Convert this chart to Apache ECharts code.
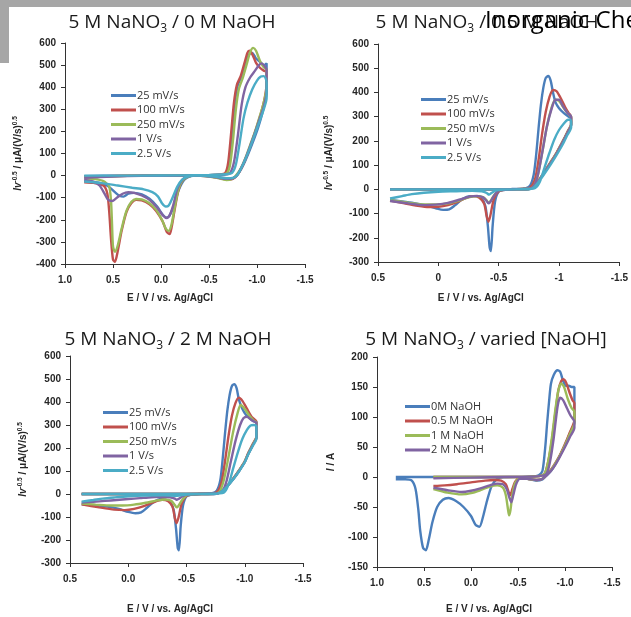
<!DOCTYPE html>
<html><head><meta charset="utf-8">
<script src="https://cdn.jsdelivr.net/npm/echarts@6/dist/echarts.min.js"></script>
<style>html,body{margin:0;padding:0;background:#fff}#c{width:631px;height:617px}</style>
</head><body><div id="c"></div>
<script>
// ---------- legend names ----------
const rateNames = ['25 mV/s', '100 mV/s', '250 mV/s', '1 V/s', '2.5 V/s'];
const naohNames = ['0M NaOH', '0.5 M NaOH', '1 M NaOH', '2 M NaOH'];
const titles = ['0 M NaOH', '0.5 M NaOH', '2 M NaOH', 'varied [NaOH]'];
const colors = ['#4a7ebb', '#c0504d', '#9bbb59', '#8064a2', '#4bacc6'];

// ---------- panel 1: 5 M NaNO3 / 0 M NaOH  ([E (V), I v^-0.5]) ----------
const p1_25 = [[0.8,-3],[0.6,-1],[0.3,0],[0,0],[-0.3,1],[-0.5,2],[-0.62,4],[-0.68,10],[-0.71,50],[-0.74,170],[-0.77,330],[-0.8,410],[-0.84,450],[-0.88,510],[-0.92,550],[-0.95,555],[-0.99,530],[-1.03,515],[-1.07,500],[-1.1,508],
 [-1.1,380],[-1.06,290],[-1.01,215],[-0.96,155],[-0.91,100],[-0.86,50],[-0.81,12],[-0.77,-8],[-0.72,-14],[-0.62,-8],[-0.5,-2],[-0.38,0],[-0.3,-3],[-0.24,-20],[-0.18,-70],[-0.13,-140],[-0.09,-180],[-0.06,-190],[-0.02,-178],[0.04,-140],[0.12,-105],[0.2,-85],[0.28,-78],[0.34,-82],[0.39,-95],[0.43,-92],[0.48,-75],[0.55,-48],[0.65,-32],[0.8,-22]];
const p1_100 = [[0.8,-5],[0.5,-2],[0.2,0],[-0.2,1],[-0.5,2],[-0.62,5],[-0.67,12],[-0.7,60],[-0.73,190],[-0.76,330],[-0.79,410],[-0.83,450],[-0.87,510],[-0.9,555],[-0.92,565],[-0.95,550],[-0.99,510],[-1.03,488],[-1.07,475],[-1.1,470],
 [-1.1,420],[-1.08,350],[-1.04,280],[-0.99,210],[-0.94,145],[-0.89,85],[-0.84,35],[-0.79,0],[-0.75,-15],[-0.7,-18],[-0.6,-10],[-0.48,-2],[-0.36,0],[-0.28,-5],[-0.22,-25],[-0.18,-70],[-0.14,-160],[-0.11,-235],[-0.09,-265],[-0.06,-255],[-0.02,-210],[0.05,-160],[0.12,-130],[0.2,-112],[0.26,-110],[0.31,-125],[0.36,-165],[0.41,-250],[0.45,-340],[0.48,-390],[0.5,-380],[0.52,-290],[0.54,-160],[0.56,-80],[0.6,-45],[0.7,-33],[0.8,-30]];
const p1_250 = [[0.8,-8],[0.5,-3],[0.2,0],[-0.2,1],[-0.5,2],[-0.64,5],[-0.69,12],[-0.72,50],[-0.75,160],[-0.78,300],[-0.81,390],[-0.85,440],[-0.89,500],[-0.93,560],[-0.96,578],[-0.99,565],[-1.03,520],[-1.07,490],[-1.1,480],
 [-1.1,400],[-1.07,330],[-1.03,270],[-0.98,200],[-0.93,140],[-0.88,80],[-0.83,32],[-0.78,0],[-0.74,-15],[-0.68,-20],[-0.58,-10],[-0.46,-2],[-0.36,0],[-0.28,-5],[-0.22,-25],[-0.18,-65],[-0.14,-150],[-0.11,-220],[-0.08,-250],[-0.05,-240],[-0.01,-200],[0.05,-155],[0.12,-125],[0.2,-108],[0.26,-106],[0.31,-120],[0.36,-160],[0.41,-240],[0.45,-315],[0.48,-345],[0.5,-320],[0.51,-220],[0.52,-120],[0.54,-50],[0.6,-25],[0.7,-15],[0.8,-12]];
const p1_1000 = [[0.8,-10],[0.5,-4],[0.2,-1],[-0.2,0],[-0.5,2],[-0.66,5],[-0.72,12],[-0.76,60],[-0.8,180],[-0.84,320],[-0.88,400],[-0.93,445],[-0.98,475],[-1.02,500],[-1.05,508],[-1.08,495],[-1.1,480],
 [-1.1,380],[-1.07,310],[-1.03,260],[-0.98,195],[-0.93,135],[-0.88,78],[-0.83,30],[-0.79,0],[-0.75,-12],[-0.68,-15],[-0.58,-8],[-0.46,-2],[-0.36,0],[-0.28,-4],[-0.22,-20],[-0.17,-60],[-0.13,-130],[-0.09,-180],[-0.06,-192],[-0.02,-180],[0.04,-145],[0.12,-110],[0.2,-90],[0.28,-78],[0.34,-75],[0.4,-82],[0.46,-100],[0.51,-115],[0.55,-110],[0.59,-80],[0.64,-45],[0.7,-28],[0.8,-20]];
const p1_2500 = [[0.8,0],[0.5,0],[0.2,0],[-0.2,1],[-0.5,3],[-0.68,6],[-0.74,12],[-0.78,50],[-0.82,150],[-0.86,260],[-0.9,330],[-0.95,390],[-1.0,430],[-1.04,448],[-1.07,450],[-1.09,440],[-1.1,420],
 [-1.1,350],[-1.07,300],[-1.03,250],[-0.98,190],[-0.93,130],[-0.88,75],[-0.83,28],[-0.79,0],[-0.75,-10],[-0.68,-12],[-0.58,-6],[-0.46,-1],[-0.36,0],[-0.28,-4],[-0.22,-18],[-0.17,-50],[-0.12,-100],[-0.08,-135],[-0.05,-140],[-0.01,-125],[0.03,-95],[0.09,-75],[0.18,-62],[0.3,-55],[0.45,-45],[0.6,-35],[0.8,-27]];

// ---------- panel 2: 5 M NaNO3 / 0.5 M NaOH ----------
const p2_25 = [[0.4,0],[0.2,0],[0,0],[-0.3,0],[-0.6,1],[-0.72,4],[-0.76,15],[-0.79,60],[-0.81,140],[-0.83,250],[-0.85,350],[-0.87,420],[-0.89,460],[-0.91,468],[-0.93,450],[-0.95,400],[-0.97,360],[-1.0,335],[-1.04,315],[-1.08,300],[-1.1,295],
 [-1.1,265],[-1.07,235],[-1.03,195],[-0.98,150],[-0.93,110],[-0.88,72],[-0.83,35],[-0.79,10],[-0.75,1],[-0.65,0],[-0.56,-2],[-0.5,-10],[-0.47,-50],[-0.45,-150],[-0.435,-255],[-0.425,-240],[-0.41,-150],[-0.39,-70],[-0.36,-38],[-0.31,-28],[-0.26,-28],[-0.2,-40],[-0.14,-65],[-0.09,-83],[-0.04,-85],[0.02,-78],[0.1,-66],[0.2,-57],[0.3,-50],[0.4,-44]];
const p2_100 = [[0.4,0],[0,0],[-0.4,0],[-0.7,2],[-0.76,8],[-0.8,40],[-0.83,120],[-0.86,230],[-0.89,320],[-0.92,380],[-0.95,410],[-0.98,405],[-1.01,380],[-1.05,340],[-1.08,315],[-1.1,300],
 [-1.1,270],[-1.07,238],[-1.03,198],[-0.98,152],[-0.93,112],[-0.88,73],[-0.83,36],[-0.79,10],[-0.75,1],[-0.65,0],[-0.56,-2],[-0.5,-8],[-0.46,-40],[-0.43,-110],[-0.415,-134],[-0.4,-110],[-0.38,-60],[-0.34,-35],[-0.29,-28],[-0.23,-35],[-0.16,-52],[-0.08,-65],[0.0,-72],[0.08,-73],[0.17,-68],[0.28,-58],[0.4,-46]];
const p2_250 = [[0.4,0],[0,0],[-0.4,0],[-0.7,2],[-0.78,8],[-0.82,50],[-0.86,150],[-0.9,260],[-0.94,340],[-0.97,370],[-1.0,365],[-1.04,335],[-1.08,310],[-1.1,300],
 [-1.1,268],[-1.07,236],[-1.03,196],[-0.98,150],[-0.93,110],[-0.88,71],[-0.83,34],[-0.79,9],[-0.75,1],[-0.65,0],[-0.55,-2],[-0.5,-5],[-0.46,-25],[-0.43,-50],[-0.415,-55],[-0.4,-45],[-0.37,-32],[-0.32,-28],[-0.26,-32],[-0.18,-45],[-0.08,-58],[0.02,-62],[0.12,-62],[0.25,-55],[0.4,-45]];
const p2_1000 = [[0.4,0],[0,0],[-0.4,0],[-0.7,2],[-0.78,8],[-0.82,50],[-0.86,150],[-0.9,260],[-0.94,335],[-0.97,370],[-1.0,370],[-1.03,345],[-1.07,315],[-1.1,300],
 [-1.1,266],[-1.07,234],[-1.03,194],[-0.98,148],[-0.93,108],[-0.88,70],[-0.83,33],[-0.79,9],[-0.75,1],[-0.65,0],[-0.55,-2],[-0.5,-5],[-0.46,-28],[-0.43,-52],[-0.415,-58],[-0.4,-48],[-0.37,-33],[-0.32,-27],[-0.26,-30],[-0.18,-42],[-0.08,-56],[0.02,-63],[0.12,-65],[0.25,-58],[0.4,-48]];
const p2_2500 = [[0.4,0],[0,0],[-0.4,0],[-0.7,1],[-0.8,5],[-0.84,30],[-0.88,90],[-0.92,150],[-0.96,205],[-1.0,245],[-1.04,272],[-1.07,287],[-1.09,288],[-1.1,280],
 [-1.1,255],[-1.07,225],[-1.03,185],[-0.98,142],[-0.93,102],[-0.88,65],[-0.83,30],[-0.79,8],[-0.75,0],[-0.65,0],[-0.55,-1],[-0.48,-4],[-0.44,-15],[-0.42,-22],[-0.4,-15],[-0.36,-8],[-0.28,-6],[-0.15,-8],[0.0,-10],[0.12,-14],[0.22,-20],[0.3,-28],[0.4,-38]];

// ---------- panel 3: 5 M NaNO3 / 2 M NaOH ----------
const p3_25 = [[0.4,0],[0,0],[-0.3,0],[-0.6,1],[-0.72,4],[-0.76,15],[-0.79,60],[-0.81,150],[-0.83,260],[-0.85,360],[-0.87,430],[-0.89,470],[-0.91,477],[-0.93,460],[-0.95,410],[-0.98,370],[-1.01,345],[-1.04,330],[-1.07,318],[-1.1,312],
 [-1.1,245],[-1.07,215],[-1.03,175],[-1.0,140],[-0.95,100],[-0.9,65],[-0.85,35],[-0.8,12],[-0.76,2],[-0.65,0],[-0.56,-2],[-0.5,-10],[-0.47,-50],[-0.45,-140],[-0.435,-245],[-0.425,-235],[-0.41,-150],[-0.39,-70],[-0.36,-35],[-0.32,-24],[-0.28,-22],[-0.22,-35],[-0.16,-60],[-0.11,-80],[-0.06,-84],[0.0,-78],[0.08,-65],[0.18,-55],[0.3,-48],[0.4,-45]];
const p3_100 = [[0.4,0],[0,0],[-0.4,0],[-0.7,2],[-0.76,8],[-0.8,50],[-0.83,140],[-0.86,250],[-0.89,340],[-0.92,395],[-0.95,419],[-0.98,405],[-1.02,370],[-1.06,335],[-1.1,315],
 [-1.1,250],[-1.07,218],[-1.03,178],[-1.0,142],[-0.95,102],[-0.9,66],[-0.85,36],[-0.8,12],[-0.76,2],[-0.65,0],[-0.56,-2],[-0.5,-8],[-0.46,-40],[-0.43,-105],[-0.415,-127],[-0.4,-105],[-0.38,-55],[-0.34,-30],[-0.29,-25],[-0.22,-35],[-0.14,-52],[-0.05,-65],[0.03,-70],[0.12,-68],[0.25,-58],[0.4,-45]];
const p3_250 = [[0.4,0],[0,0],[-0.4,0],[-0.7,2],[-0.78,8],[-0.82,60],[-0.86,160],[-0.9,270],[-0.94,355],[-0.965,387],[-1.0,370],[-1.04,340],[-1.08,318],[-1.1,312],
 [-1.1,248],[-1.07,216],[-1.03,176],[-1.0,141],[-0.95,101],[-0.9,65],[-0.85,35],[-0.8,11],[-0.76,2],[-0.65,0],[-0.55,-2],[-0.5,-5],[-0.46,-28],[-0.43,-52],[-0.415,-58],[-0.4,-48],[-0.37,-30],[-0.32,-24],[-0.25,-28],[-0.15,-38],[-0.05,-46],[0.05,-50],[0.15,-50],[0.28,-46],[0.4,-42]];
const p3_1000 = [[0.4,0],[0,0],[-0.4,0],[-0.7,2],[-0.8,8],[-0.84,50],[-0.88,140],[-0.92,230],[-0.96,300],[-0.99,330],[-1.02,336],[-1.05,325],[-1.08,315],[-1.1,310],
 [-1.1,245],[-1.07,213],[-1.03,174],[-1.0,139],[-0.95,99],[-0.9,64],[-0.85,34],[-0.8,11],[-0.76,1],[-0.65,0],[-0.55,-1],[-0.5,-3],[-0.46,-12],[-0.43,-22],[-0.415,-25],[-0.4,-20],[-0.36,-14],[-0.3,-12],[-0.2,-14],[-0.1,-18],[0.0,-22],[0.1,-26],[0.2,-30],[0.3,-34],[0.4,-37]];
const p3_2500 = [[0.4,0],[0,0],[-0.4,0],[-0.7,1],[-0.82,6],[-0.86,40],[-0.9,110],[-0.94,180],[-0.98,240],[-1.02,280],[-1.05,298],[-1.08,300],[-1.1,295],
 [-1.1,240],[-1.07,210],[-1.03,172],[-1.0,138],[-0.95,98],[-0.9,63],[-0.85,33],[-0.8,10],[-0.76,1],[-0.65,0],[-0.5,-2],[-0.42,-8],[-0.3,-6],[-0.15,-7],[0.0,-10],[0.12,-15],[0.22,-20],[0.3,-26],[0.4,-33]];

// ---------- panel 4: 5 M NaNO3 / varied [NaOH]  ([E (V), I]) ----------
const p4_0M = [[0.8,0],[0.4,0],[0,0],[-0.4,0],[-0.65,1],[-0.72,3],[-0.76,10],[-0.79,50],[-0.81,90],[-0.83,125],[-0.85,155],[-0.88,170],[-0.92,178],[-0.95,175],[-0.98,160],[-1.01,152],[-1.04,152],[-1.07,150],[-1.1,150],
 [-1.1,92],[-1.05,72],[-1.0,53],[-0.95,37],[-0.9,22],[-0.85,10],[-0.8,2],[-0.76,-4],[-0.7,-6],[-0.6,-3],[-0.5,0],[-0.35,0],[-0.28,-3],[-0.22,-15],[-0.17,-40],[-0.13,-65],[-0.09,-83],[-0.05,-80],[0.0,-65],[0.08,-50],[0.16,-40],[0.24,-35],[0.3,-38],[0.36,-50],[0.41,-75],[0.45,-105],[0.48,-122],[0.51,-118],[0.54,-90],[0.56,-55],[0.59,-20],[0.63,-6],[0.7,-4],[0.8,-4]];
const p4_05M = [[0.4,0],[0,0],[-0.4,0],[-0.7,1],[-0.78,5],[-0.82,25],[-0.86,60],[-0.9,110],[-0.93,145],[-0.96,160],[-0.98,163],[-1.01,158],[-1.05,140],[-1.08,128],[-1.1,123],
 [-1.1,95],[-1.05,74],[-1.0,55],[-0.95,38],[-0.9,24],[-0.85,12],[-0.8,3],[-0.76,-3],[-0.7,-5],[-0.6,-3],[-0.52,-2],[-0.47,-8],[-0.44,-20],[-0.42,-30],[-0.4,-25],[-0.37,-12],[-0.32,-6],[-0.25,-5],[-0.15,-6],[0.0,-9],[0.15,-12],[0.28,-14],[0.4,-15]];
const p4_1M = [[0.4,0],[0,0],[-0.4,0],[-0.7,1],[-0.78,5],[-0.82,25],[-0.86,65],[-0.9,115],[-0.93,145],[-0.96,156],[-0.99,150],[-1.03,130],[-1.07,115],[-1.1,109],
 [-1.1,90],[-1.05,71],[-1.0,53],[-0.95,37],[-0.9,23],[-0.85,11],[-0.8,3],[-0.76,-3],[-0.7,-5],[-0.6,-3],[-0.52,-2],[-0.47,-10],[-0.44,-30],[-0.42,-55],[-0.405,-64],[-0.39,-50],[-0.37,-30],[-0.34,-18],[-0.28,-14],[-0.2,-16],[-0.1,-22],[0.0,-27],[0.1,-29],[0.25,-26],[0.4,-20]];
const p4_2M = [[0.4,-2],[0,-1],[-0.4,0],[-0.7,1],[-0.8,5],[-0.84,25],[-0.88,65],[-0.91,105],[-0.93,125],[-0.95,132],[-0.98,128],[-1.02,115],[-1.06,102],[-1.1,92],
 [-1.1,82],[-1.05,66],[-1.0,50],[-0.95,35],[-0.9,21],[-0.85,10],[-0.8,2],[-0.76,-3],[-0.7,-5],[-0.6,-3],[-0.52,-3],[-0.48,-12],[-0.45,-30],[-0.43,-42],[-0.41,-35],[-0.38,-20],[-0.34,-12],[-0.28,-11],[-0.2,-14],[-0.1,-19],[0.0,-23],[0.1,-25],[0.25,-22],[0.4,-18]];

// ---------- axis ranges ----------
const xRanges = [[-1.5, 1.0], [-1.5, 0.5], [-1.5, 0.5], [-1.5, 1.0]];
const yRanges = [[-400, 600, 100], [-300, 600, 100], [-300, 600, 100], [-150, 200, 50]];

const panelSeries = [
  [p1_25, p1_100, p1_250, p1_1000, p1_2500],
  [p2_25, p2_100, p2_250, p2_1000, p2_2500],
  [p3_25, p3_100, p3_250, p3_1000, p3_2500],
  [p4_0M, p4_05M, p4_1M, p4_2M]
];
const panelNames = [rateNames, rateNames, rateNames, naohNames];

// ---------- layout ----------
const grids = [
  {left: 65, top: 43, width: 240, height: 221},
  {left: 378, top: 44, width: 244, height: 218},
  {left: 70, top: 356, width: 233, height: 207},
  {left: 377, top: 357, width: 235, height: 210}
];
const titlePos = [[172, 11], [487, 11], [168, 328], [486, 328]];
const legendPos = [[111, 90], [421, 94], [103, 407], [405, 401]];
const xNameGap = [29, 31, 41, 37];
const xNameShift = [30, 36, 33, 11];
const yNameGap = [41, 43, 41, 40];
const xFmt = [1, null, 1, 1];

const tickFont = {fontFamily: 'Liberation Sans, Arial, sans-serif', fontWeight: 'bold', fontSize: 10, color: '#262626'};
const axisLine = {show: true, onZero: false, lineStyle: {color: '#333', width: 1}};

const ySup = {
  i: {fontFamily: 'Liberation Sans', fontWeight: 'bold', fontStyle: 'italic', fontSize: 10, lineHeight: 12, color: '#262626'},
  n: {fontFamily: 'Liberation Sans', fontWeight: 'bold', fontSize: 10, lineHeight: 12, color: '#262626'},
  s: {fontFamily: 'Liberation Sans', fontWeight: 'bold', fontSize: 6.5, lineHeight: 7, verticalAlign: 'top', color: '#262626'}
};
const yNames = [
  '{i|Iv}{s|-0.5}{n| / μA/(V/s)}{s|0.5}',
  '{i|Iv}{s|-0.5}{n| / μA/(V/s)}{s|0.5}',
  '{i|Iv}{s|-0.5}{n| / μA/(V/s)}{s|0.5}',
  '{i|I}{n| / A}'
];

const xAxis = [], yAxis = [], series = [], legend = [], title = [];
for (let k = 0; k < 4; k++) {
  xAxis.push({
    type: 'value', gridIndex: k, inverse: true,
    min: xRanges[k][0], max: xRanges[k][1], interval: 0.5,
    axisLine: axisLine, splitLine: {show: false},
    axisTick: {show: true, length: 4, inside: false, lineStyle: {color: '#333'}},
    axisLabel: Object.assign({margin: 11, formatter: xFmt[k] ? (v => v.toFixed(1)) : null}, tickFont),
    name: 'E / V / vs. Ag/AgCl', nameLocation: 'middle', nameGap: xNameGap[k],
    nameTextStyle: {fontFamily: 'Liberation Sans', fontWeight: 'bold', fontSize: 10, color: '#262626', padding: [0, xNameShift[k], 0, 0]}
  });
  yAxis.push({
    type: 'value', gridIndex: k,
    min: yRanges[k][0], max: yRanges[k][1], interval: yRanges[k][2],
    axisLine: axisLine, splitLine: {show: false},
    axisTick: {show: true, length: 4, lineStyle: {color: '#333'}},
    axisLabel: Object.assign({margin: 9}, tickFont),
    name: yNames[k], nameLocation: 'middle', nameGap: yNameGap[k], nameRotate: 90,
    nameTextStyle: {rich: ySup}
  });
  panelSeries[k].forEach((d, j) => {
    series.push({
      type: 'line', name: panelNames[k][j], xAxisIndex: k, yAxisIndex: k,
      data: d, showSymbol: false, smooth: 0.25, animation: false,
      color: colors[j], lineStyle: {width: 2.4, color: colors[j]}
    });
  });
  legend.push({
    data: panelNames[k], orient: 'vertical', left: legendPos[k][0], top: legendPos[k][1],
    icon: 'rect', itemWidth: 25, itemHeight: 3, itemGap: 3.5, padding: 0,
    selectedMode: false,
    textStyle: {fontFamily: 'Open Sans', fontSize: 11, color: '#333', padding: [0, 0, 0, -4]}
  });
  const lbl = ['5 M NaNO', '3', ' / ' + titles[k]];
  title.push({
    text: '{t|' + lbl[0] + '}{s|' + lbl[1] + '}{t|' + lbl[2] + '}',
    left: titlePos[k][0], top: titlePos[k][1], textAlign: 'center', padding: 0,
    textStyle: {fontWeight: 'normal', rich: {
      t: {fontFamily: 'Open Sans', fontWeight: 'normal', fontSize: 19, lineHeight: 24, color: '#1a1a1a'},
      s: {fontFamily: 'Open Sans', fontWeight: 'normal', fontSize: 12, lineHeight: 12, verticalAlign: 'bottom', color: '#1a1a1a'}
    }}
  });
}

const chart = echarts.init(document.getElementById('c'), null, {renderer: 'canvas'});
chart.setOption({
  backgroundColor: '#ffffff',
  animation: false,
  title: title,
  grid: grids,
  xAxis: xAxis,
  yAxis: yAxis,
  legend: legend,
  series: series,
  graphic: [
    {type: 'rect', left: 0, top: 0, z: 100, shape: {width: 631, height: 7}, style: {fill: '#a6a6a6'}},
    {type: 'rect', left: 0, top: 0, z: 100, shape: {width: 9, height: 63}, style: {fill: '#a6a6a6'}},
    {type: 'text', left: 485, top: 9, z: 101, style: {text: 'Inorganic Che', fill: '#000', font: '24px "Open Sans"'}}
  ]
});
</script>
</body></html>
